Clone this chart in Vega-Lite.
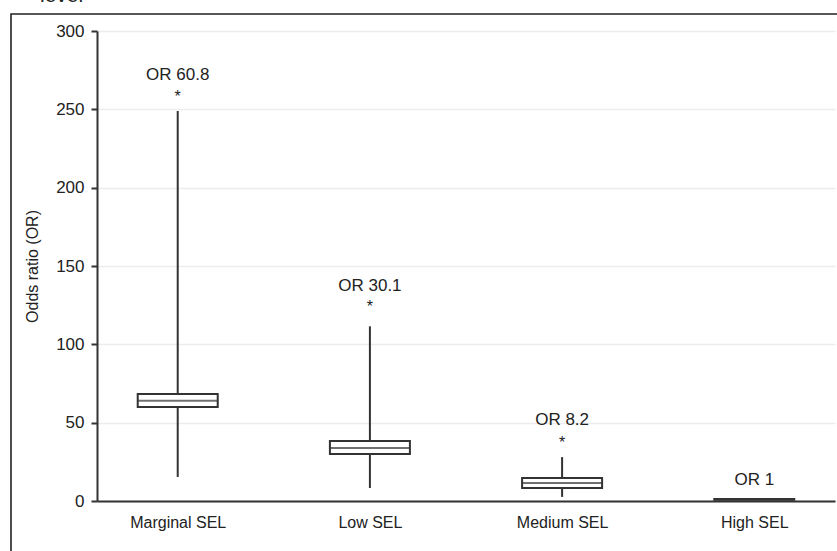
{
  "$schema": "https://vega.github.io/schema/vega-lite/v6.json",
  "width": 836,
  "height": 547,
  "autosize": {"type": "none"},
  "padding": {"left": 11, "top": 14, "right": -10, "bottom": -10},
  "title": {"text": "level", "anchor": "start", "frame": "group", "dx": 29, "dy": 15, "offset": 6, "fontSize": 21, "font": "Liberation Sans", "fontWeight": "normal", "color": "#222", "baseline": "alphabetic"},
  "config": {
    "view": {"stroke": "#222", "strokeWidth": 1.6},
    "font": "Liberation Sans"
  },
  "data": {
    "values": [
      {"group": "Marginal SEL", "lo": 15.3, "q1": 60, "med": 64, "q3": 68.3, "hi": 249, "star": "*", "star_y": 254.6, "label": "OR 60.8", "label_y": 268.5},
      {"group": "Low SEL", "lo": 8.3, "q1": 30, "med": 33.8, "q3": 38.3, "hi": 111.5, "star": "*", "star_y": 120.6, "label": "OR 30.1", "label_y": 134},
      {"group": "Medium SEL", "lo": 2.6, "q1": 8.3, "med": 11.5, "q3": 14.7, "hi": 28, "star": "*", "star_y": 33.8, "label": "OR 8.2", "label_y": 48.8},
      {"group": "High SEL", "lo": 1, "q1": 0.8, "med": 1, "q3": 1.2, "hi": 1, "star": "", "star_y": 10, "label": "OR 1", "label_y": 10.2}
    ]
  },
  "encoding": {
    "x": {
      "field": "group", "type": "nominal", "sort": null,
      "scale": {"type": "point", "range": [86, 824], "padding": 0.42},
      "axis": {"title": null, "orient": "bottom", "offset": -60, "ticks": false, "labelPadding": 13, "labelFontSize": 16, "labelFont": "Liberation Sans", "labelColor": "#222", "domainColor": "#333", "domainWidth": 2, "grid": false, "labelAngle": 0}
    }
  },
  "layer": [
    {
      "mark": {"type": "rule", "color": "#333", "strokeWidth": 2},
      "encoding": {
        "y": {
          "field": "lo", "type": "quantitative",
          "scale": {"domain": [0, 300], "range": [487, 17], "nice": false, "zero": true},
          "axis": {"title": "Odds ratio (OR)", "orient": "left", "offset": -86, "values": [0, 50, 100, 150, 200, 250, 300], "tickSize": 6, "tickWidth": 2, "tickColor": "#333", "domainWidth": 2, "domainColor": "#333", "labelFontSize": 17, "labelFont": "Liberation Sans", "labelColor": "#222", "labelPadding": 7, "grid": true, "gridColor": "#ececec", "gridWidth": 1.5, "titleFontSize": 16, "titleFont": "Liberation Sans", "titleFontWeight": "normal", "titleColor": "#222", "titlePadding": 15}
        },
        "y2": {"field": "hi"}
      }
    },
    {
      "mark": {"type": "bar", "fill": "white", "stroke": "#333", "strokeWidth": 2, "size": 80},
      "encoding": {
        "y": {"field": "q1", "type": "quantitative"},
        "y2": {"field": "q3"}
      }
    },
    {
      "mark": {"type": "tick", "color": "#333", "size": 80, "thickness": 2, "orient": "horizontal"},
      "encoding": {
        "y": {"field": "med", "type": "quantitative"}
      }
    },
    {
      "mark": {"type": "text", "fontSize": 17, "font": "Liberation Sans", "color": "#222", "baseline": "alphabetic"},
      "encoding": {
        "y": {"field": "label_y", "type": "quantitative"},
        "text": {"field": "label"}
      }
    },
    {
      "mark": {"type": "text", "fontSize": 16, "font": "Liberation Sans", "color": "#222", "baseline": "alphabetic"},
      "encoding": {
        "y": {"field": "star_y", "type": "quantitative"},
        "text": {"field": "star"}
      }
    }
  ]
}
